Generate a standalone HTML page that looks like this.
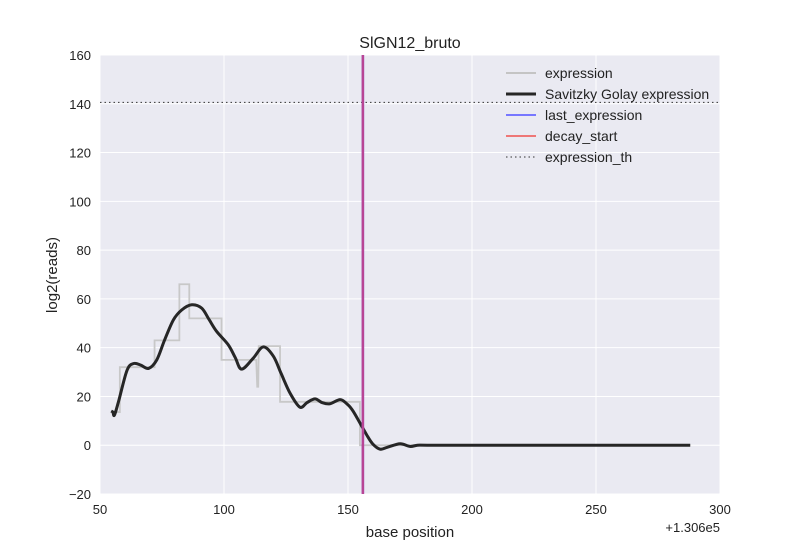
<!DOCTYPE html>
<html><head><meta charset="utf-8"><style>
body{margin:0;background:#fff;font-family:"Liberation Sans",sans-serif}
svg text{font-family:"Liberation Sans",sans-serif;fill:#222}
</style></head><body>
<svg id="c" width="800" height="550"></svg>
<script>
const xTicks=[50,100,150,200,250,300];
const yTicks=[-20,0,20,40,60,80,100,120,140,160];
const exprX=[55.2,58,58,72,72,82,82,86,86,99,99,113,113.4,113.8,114,122.6,122.6,154.8,154.8,288];
const exprY=[13.6,13.6,32,32,43,43,66,66,52,52,35,35,24,24,40.6,40.6,17.8,17.8,0,0];
const sgX=[54.5,55.2,55.8,57.5,60.9,63.6,66.5,69.6,72.9,76,79.6,83,87,91,94,97,101.7,104.5,107.1,111.8,115.8,119.9,123,126.6,130.6,133.5,136.7,139.5,142.7,146.8,149.5,152.1,157.5,160,162.9,166,171,175,178,182,200,250,288];
const sgY=[14,13.6,12.3,18,30.7,33.5,32.8,31.5,35,43,51.4,55.5,57.6,56.2,51.5,46.7,41.2,36,31.2,35.7,40.3,36.5,29.5,21.4,15.6,17.5,19,17.5,17,18.7,17,13.9,4.3,0.5,-1.6,-0.8,0.6,-0.5,0,0,0,0,0];
const lastExpr=[156];
const threshold=[140.6];
const NS="http://www.w3.org/2000/svg";
const svg=document.getElementById('c');
const L=100,R=720,T=55,B=494;
const sx=v=>L+(v-50)/(300-50)*(R-L);
const sy=v=>B-(v+20)/(180)*(B-T);
function mk(t,a,p){const e=document.createElementNS(NS,t);for(const k in a)e.setAttribute(k,a[k]);(p||svg).appendChild(e);return e;}
const bg=mk('rect',{x:L,y:T,width:R-L,height:B-T,fill:'#eaeaf2'});


xTicks.forEach(v=>{
 const g=mk('line',{x1:sx(v),x2:sx(v),y1:T,y2:B,stroke:'#fff','stroke-width':1});
 
 
 const t=mk('text',{x:sx(v),y:B+20,'text-anchor':'middle','font-size':13});t.textContent=v;
 
 
});
yTicks.forEach(v=>{
 const g=mk('line',{x1:L,x2:R,y1:sy(v),y2:sy(v),stroke:'#fff','stroke-width':1});
 
 
 const t=mk('text',{x:L-9,y:sy(v)+5,'text-anchor':'end','font-size':13});t.textContent=(v<0?'\u2212'+(-v):v);
 
 
});
const th=mk('line',{x1:L,x2:R,y1:sy(threshold[0]),y2:sy(threshold[0]),stroke:'#333','stroke-width':1,'stroke-dasharray':'1.5,3'});


const pe=mk('polyline',{points:exprX.map((x,i)=>sx(x)+','+sy(exprY[i])).join(' '),fill:'none',stroke:'#c8c8c8','stroke-width':1.8});


const ps=mk('path',{fill:'none',stroke:'#262626','stroke-width':3,'stroke-linejoin':'round',
 d:(()=>{const P=sgX.map((x,i)=>[sx(x),sy(sgY[i])]);let d='M'+P[0];for(let i=0;i<P.length-1;i++){const p0=P[Math.max(0,i-1)],p1=P[i],p2=P[i+1],p3=P[Math.min(P.length-1,i+2)];d+=' C'+(p1[0]+(p2[0]-p0[0])/6)+','+(p1[1]+(p2[1]-p0[1])/6)+' '+(p2[0]-(p3[0]-p1[0])/6)+','+(p2[1]-(p3[1]-p1[1])/6)+' '+p2[0]+','+p2[1];}return d;})()});


const v1=mk('line',{x1:sx(lastExpr[0]),x2:sx(lastExpr[0]),y1:T,y2:B,stroke:'#7777ff','stroke-width':2.5});


const v2=mk('line',{x1:sx(lastExpr[0]),x2:sx(lastExpr[0]),y1:T,y2:B,stroke:'#c0408a','stroke-width':2.5,opacity:0.9});


const title=mk('text',{x:410,y:48,'text-anchor':'middle','font-size':16});title.textContent='SlGN12_bruto';


const xl=mk('text',{x:410,y:537,'text-anchor':'middle','font-size':15});xl.textContent='base position';


const off=mk('text',{x:720,y:532,'text-anchor':'end','font-size':13});off.textContent='+1.306e5';


const yl=mk('text',{x:57,y:275,'text-anchor':'middle','font-size':15,transform:'rotate(-90 57 275)'});yl.textContent='log2(reads)';


const legendItems=[['expression','#c4c4c4',2,''],['Savitzky Golay expression','#262626',3,''],['last_expression','#7777ff',2,''],['decay_start','#ee7777',2,''],['expression_th','#333',1,'1.5,3']];
legendItems.forEach((it,i)=>{
 const y=73+i*21;
 const ln=mk('line',{x1:506,x2:536,y1:y,y2:y,stroke:it[1],'stroke-width':it[2],'stroke-dasharray':it[3]});
 
 
 const t=mk('text',{x:545,y:y+5,'font-size':14});t.textContent=it[0];
 
 
});
</script>
</body></html>
